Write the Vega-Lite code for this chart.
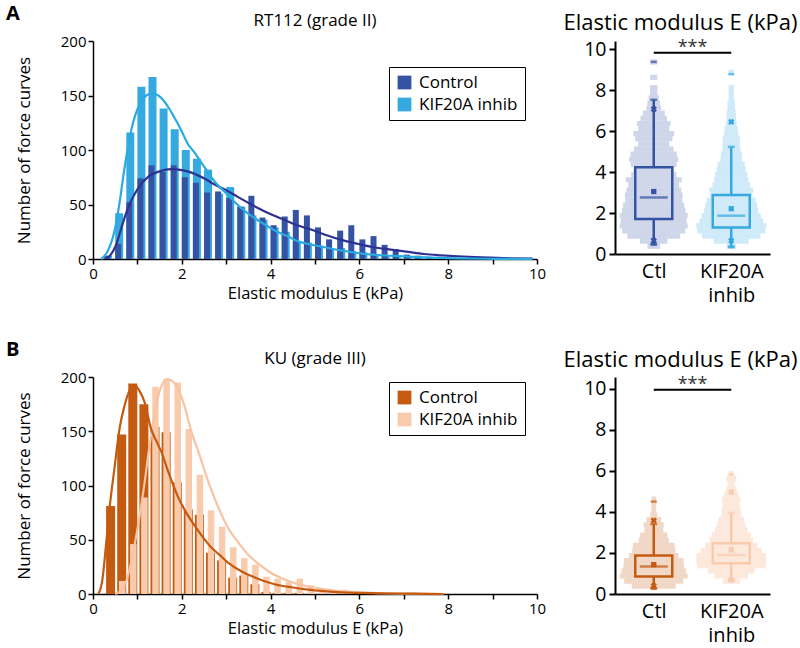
{
  "$schema": "https://vega.github.io/schema/vega-lite/v6.json",
  "background": "white",
  "padding": {"left": 5, "top": 3, "right": 0, "bottom": 0},
  "config": {
    "font": "Open Sans",
    "view": {"stroke": null},
    "axis": {"domainColor": "black", "domainWidth": 1.5, "tickColor": "black", "tickWidth": 1.5, "labelColor": "black", "titleColor": "black", "grid": false, "titleFontWeight": "normal", "labelFont": "Open Sans", "titleFont": "Open Sans"},
    "title": {"fontWeight": "normal", "color": "black", "font": "Open Sans"},
    "legend": {"labelFont": "Open Sans"}
  },
  "resolve": {"scale": {"color": "independent", "size": "independent", "x": "independent", "y": "independent"}, "legend": {"color": "independent"}},
  "datasets": {
    "histA": [
      {"grp": "KIF20A inhib", "lo": 0.25, "hi": 0.5, "n": 3},
      {"grp": "KIF20A inhib", "lo": 0.5, "hi": 0.75, "n": 42},
      {"grp": "KIF20A inhib", "lo": 0.75, "hi": 1.0, "n": 116},
      {"grp": "KIF20A inhib", "lo": 1.0, "hi": 1.25, "n": 158},
      {"grp": "KIF20A inhib", "lo": 1.25, "hi": 1.5, "n": 167},
      {"grp": "KIF20A inhib", "lo": 1.5, "hi": 1.75, "n": 138},
      {"grp": "KIF20A inhib", "lo": 1.75, "hi": 2.0, "n": 119},
      {"grp": "KIF20A inhib", "lo": 2.0, "hi": 2.25, "n": 100},
      {"grp": "KIF20A inhib", "lo": 2.25, "hi": 2.5, "n": 92},
      {"grp": "KIF20A inhib", "lo": 2.5, "hi": 2.75, "n": 82},
      {"grp": "KIF20A inhib", "lo": 2.75, "hi": 3.0, "n": 60},
      {"grp": "KIF20A inhib", "lo": 3.0, "hi": 3.25, "n": 66},
      {"grp": "KIF20A inhib", "lo": 3.25, "hi": 3.5, "n": 48},
      {"grp": "KIF20A inhib", "lo": 3.5, "hi": 3.75, "n": 40},
      {"grp": "KIF20A inhib", "lo": 3.75, "hi": 4.0, "n": 36},
      {"grp": "KIF20A inhib", "lo": 4.0, "hi": 4.25, "n": 29},
      {"grp": "KIF20A inhib", "lo": 4.25, "hi": 4.5, "n": 25},
      {"grp": "KIF20A inhib", "lo": 4.5, "hi": 4.75, "n": 16},
      {"grp": "KIF20A inhib", "lo": 4.75, "hi": 5.0, "n": 15},
      {"grp": "KIF20A inhib", "lo": 5.0, "hi": 5.25, "n": 11},
      {"grp": "KIF20A inhib", "lo": 5.25, "hi": 5.5, "n": 10},
      {"grp": "KIF20A inhib", "lo": 5.5, "hi": 5.75, "n": 10},
      {"grp": "KIF20A inhib", "lo": 5.75, "hi": 6.0, "n": 7},
      {"grp": "KIF20A inhib", "lo": 6.0, "hi": 6.25, "n": 6},
      {"grp": "KIF20A inhib", "lo": 6.25, "hi": 6.5, "n": 4},
      {"grp": "KIF20A inhib", "lo": 6.5, "hi": 6.75, "n": 3},
      {"grp": "KIF20A inhib", "lo": 6.75, "hi": 7.0, "n": 3},
      {"grp": "KIF20A inhib", "lo": 7.0, "hi": 7.25, "n": 2},
      {"grp": "KIF20A inhib", "lo": 7.25, "hi": 7.5, "n": 2},
      {"grp": "KIF20A inhib", "lo": 7.5, "hi": 7.75, "n": 1},
      {"grp": "KIF20A inhib", "lo": 7.75, "hi": 8.0, "n": 1},
      {"grp": "KIF20A inhib", "lo": 8.0, "hi": 8.25, "n": 1},
      {"grp": "KIF20A inhib", "lo": 8.75, "hi": 9.0, "n": 1},
      {"grp": "Control", "lo": 0.25, "hi": 0.5, "n": 3},
      {"grp": "Control", "lo": 0.5, "hi": 0.75, "n": 14},
      {"grp": "Control", "lo": 0.75, "hi": 1.0, "n": 52},
      {"grp": "Control", "lo": 1.0, "hi": 1.25, "n": 74},
      {"grp": "Control", "lo": 1.25, "hi": 1.5, "n": 86},
      {"grp": "Control", "lo": 1.5, "hi": 1.75, "n": 80},
      {"grp": "Control", "lo": 1.75, "hi": 2.0, "n": 86},
      {"grp": "Control", "lo": 2.0, "hi": 2.25, "n": 75},
      {"grp": "Control", "lo": 2.25, "hi": 2.5, "n": 70},
      {"grp": "Control", "lo": 2.5, "hi": 2.75, "n": 61},
      {"grp": "Control", "lo": 2.75, "hi": 3.0, "n": 62},
      {"grp": "Control", "lo": 3.0, "hi": 3.25, "n": 56},
      {"grp": "Control", "lo": 3.25, "hi": 3.5, "n": 48},
      {"grp": "Control", "lo": 3.5, "hi": 3.75, "n": 58},
      {"grp": "Control", "lo": 3.75, "hi": 4.0, "n": 38},
      {"grp": "Control", "lo": 4.0, "hi": 4.25, "n": 31},
      {"grp": "Control", "lo": 4.25, "hi": 4.5, "n": 39},
      {"grp": "Control", "lo": 4.5, "hi": 4.75, "n": 45},
      {"grp": "Control", "lo": 4.75, "hi": 5.0, "n": 40},
      {"grp": "Control", "lo": 5.0, "hi": 5.25, "n": 29},
      {"grp": "Control", "lo": 5.25, "hi": 5.5, "n": 18},
      {"grp": "Control", "lo": 5.5, "hi": 5.75, "n": 26},
      {"grp": "Control", "lo": 5.75, "hi": 6.0, "n": 31},
      {"grp": "Control", "lo": 6.0, "hi": 6.25, "n": 18},
      {"grp": "Control", "lo": 6.25, "hi": 6.5, "n": 21},
      {"grp": "Control", "lo": 6.5, "hi": 6.75, "n": 13},
      {"grp": "Control", "lo": 6.75, "hi": 7.0, "n": 9},
      {"grp": "Control", "lo": 7.0, "hi": 7.25, "n": 4},
      {"grp": "Control", "lo": 7.25, "hi": 7.5, "n": 3},
      {"grp": "Control", "lo": 7.5, "hi": 7.75, "n": 2},
      {"grp": "Control", "lo": 7.75, "hi": 8.0, "n": 1},
      {"grp": "Control", "lo": 8.0, "hi": 8.25, "n": 1},
      {"grp": "Control", "lo": 8.5, "hi": 8.75, "n": 1},
      {"grp": "Control", "lo": 9.25, "hi": 9.5, "n": 1}
    ],
    "histB": [
      {"grp": "Control", "lo": 0.25, "hi": 0.5, "n": 81},
      {"grp": "Control", "lo": 0.5, "hi": 0.75, "n": 147},
      {"grp": "Control", "lo": 0.75, "hi": 1.0, "n": 194},
      {"grp": "Control", "lo": 1.0, "hi": 1.25, "n": 175},
      {"grp": "Control", "lo": 1.25, "hi": 1.5, "n": 154},
      {"grp": "Control", "lo": 1.5, "hi": 1.75, "n": 149},
      {"grp": "Control", "lo": 1.75, "hi": 2.0, "n": 103},
      {"grp": "Control", "lo": 2.0, "hi": 2.25, "n": 78},
      {"grp": "Control", "lo": 2.25, "hi": 2.5, "n": 73},
      {"grp": "Control", "lo": 2.5, "hi": 2.75, "n": 38},
      {"grp": "Control", "lo": 2.75, "hi": 3.0, "n": 31},
      {"grp": "Control", "lo": 3.0, "hi": 3.25, "n": 15},
      {"grp": "Control", "lo": 3.25, "hi": 3.5, "n": 17},
      {"grp": "Control", "lo": 3.5, "hi": 3.75, "n": 9},
      {"grp": "Control", "lo": 3.75, "hi": 4.0, "n": 2},
      {"grp": "Control", "lo": 4.0, "hi": 4.25, "n": 1},
      {"grp": "Control", "lo": 4.25, "hi": 4.5, "n": 1},
      {"grp": "Control", "lo": 4.5, "hi": 4.75, "n": 1},
      {"grp": "KIF20A inhib", "lo": 0.5, "hi": 0.75, "n": 12},
      {"grp": "KIF20A inhib", "lo": 0.75, "hi": 1.0, "n": 46},
      {"grp": "KIF20A inhib", "lo": 1.0, "hi": 1.25, "n": 89},
      {"grp": "KIF20A inhib", "lo": 1.25, "hi": 1.5, "n": 191},
      {"grp": "KIF20A inhib", "lo": 1.5, "hi": 1.75, "n": 198},
      {"grp": "KIF20A inhib", "lo": 1.75, "hi": 2.0, "n": 195},
      {"grp": "KIF20A inhib", "lo": 2.0, "hi": 2.25, "n": 152},
      {"grp": "KIF20A inhib", "lo": 2.25, "hi": 2.5, "n": 110},
      {"grp": "KIF20A inhib", "lo": 2.5, "hi": 2.75, "n": 77},
      {"grp": "KIF20A inhib", "lo": 2.75, "hi": 3.0, "n": 62},
      {"grp": "KIF20A inhib", "lo": 3.0, "hi": 3.25, "n": 43},
      {"grp": "KIF20A inhib", "lo": 3.25, "hi": 3.5, "n": 33},
      {"grp": "KIF20A inhib", "lo": 3.5, "hi": 3.75, "n": 27},
      {"grp": "KIF20A inhib", "lo": 3.75, "hi": 4.0, "n": 16},
      {"grp": "KIF20A inhib", "lo": 4.0, "hi": 4.25, "n": 14},
      {"grp": "KIF20A inhib", "lo": 4.25, "hi": 4.5, "n": 11},
      {"grp": "KIF20A inhib", "lo": 4.5, "hi": 4.75, "n": 14},
      {"grp": "KIF20A inhib", "lo": 4.75, "hi": 5.0, "n": 8},
      {"grp": "KIF20A inhib", "lo": 5.0, "hi": 5.25, "n": 4},
      {"grp": "KIF20A inhib", "lo": 5.25, "hi": 5.5, "n": 2},
      {"grp": "KIF20A inhib", "lo": 5.5, "hi": 5.75, "n": 4},
      {"grp": "KIF20A inhib", "lo": 5.75, "hi": 6.0, "n": 1}
    ],
    "curveA": [
      {"grp": "Control", "E": 0.3, "n": 0}, {"grp": "Control", "E": 0.4, "n": 4}, {"grp": "Control", "E": 0.52, "n": 13},
      {"grp": "Control", "E": 0.65, "n": 30}, {"grp": "Control", "E": 0.78, "n": 46}, {"grp": "Control", "E": 1.0, "n": 64},
      {"grp": "Control", "E": 1.26, "n": 76}, {"grp": "Control", "E": 1.5, "n": 80.5}, {"grp": "Control", "E": 1.76, "n": 82.4},
      {"grp": "Control", "E": 2.0, "n": 81.5}, {"grp": "Control", "E": 2.2, "n": 79.5}, {"grp": "Control", "E": 2.5, "n": 74},
      {"grp": "Control", "E": 2.73, "n": 68.5}, {"grp": "Control", "E": 3.0, "n": 63}, {"grp": "Control", "E": 3.26, "n": 57},
      {"grp": "Control", "E": 3.5, "n": 51.5}, {"grp": "Control", "E": 3.78, "n": 45.5}, {"grp": "Control", "E": 4.1, "n": 39.5},
      {"grp": "Control", "E": 4.38, "n": 34.7}, {"grp": "Control", "E": 4.6, "n": 31}, {"grp": "Control", "E": 4.91, "n": 27},
      {"grp": "Control", "E": 5.21, "n": 22.5}, {"grp": "Control", "E": 5.6, "n": 17.5}, {"grp": "Control", "E": 5.96, "n": 14},
      {"grp": "Control", "E": 6.3, "n": 11}, {"grp": "Control", "E": 6.71, "n": 8.6}, {"grp": "Control", "E": 7.1, "n": 6.5},
      {"grp": "Control", "E": 7.46, "n": 4.6}, {"grp": "Control", "E": 7.85, "n": 3.4}, {"grp": "Control", "E": 8.21, "n": 2.5},
      {"grp": "Control", "E": 8.6, "n": 1.7}, {"grp": "Control", "E": 8.96, "n": 1.2}, {"grp": "Control", "E": 9.4, "n": 0.7},
      {"grp": "Control", "E": 9.9, "n": 0.3},
      {"grp": "KIF20A inhib", "E": 0.18, "n": 0}, {"grp": "KIF20A inhib", "E": 0.3, "n": 5}, {"grp": "KIF20A inhib", "E": 0.48, "n": 25},
      {"grp": "KIF20A inhib", "E": 0.6, "n": 52}, {"grp": "KIF20A inhib", "E": 0.7, "n": 81}, {"grp": "KIF20A inhib", "E": 0.86, "n": 118},
      {"grp": "KIF20A inhib", "E": 1.05, "n": 142}, {"grp": "KIF20A inhib", "E": 1.2, "n": 150}, {"grp": "KIF20A inhib", "E": 1.34, "n": 152},
      {"grp": "KIF20A inhib", "E": 1.53, "n": 148}, {"grp": "KIF20A inhib", "E": 1.7, "n": 139}, {"grp": "KIF20A inhib", "E": 1.83, "n": 130},
      {"grp": "KIF20A inhib", "E": 2.0, "n": 117}, {"grp": "KIF20A inhib", "E": 2.13, "n": 106}, {"grp": "KIF20A inhib", "E": 2.3, "n": 97},
      {"grp": "KIF20A inhib", "E": 2.43, "n": 89}, {"grp": "KIF20A inhib", "E": 2.6, "n": 79}, {"grp": "KIF20A inhib", "E": 2.73, "n": 71.6},
      {"grp": "KIF20A inhib", "E": 3.03, "n": 59}, {"grp": "KIF20A inhib", "E": 3.25, "n": 50}, {"grp": "KIF20A inhib", "E": 3.48, "n": 42},
      {"grp": "KIF20A inhib", "E": 3.7, "n": 36}, {"grp": "KIF20A inhib", "E": 3.93, "n": 30}, {"grp": "KIF20A inhib", "E": 4.15, "n": 25},
      {"grp": "KIF20A inhib", "E": 4.38, "n": 21}, {"grp": "KIF20A inhib", "E": 4.6, "n": 16.5}, {"grp": "KIF20A inhib", "E": 4.91, "n": 13.3},
      {"grp": "KIF20A inhib", "E": 5.21, "n": 10.8}, {"grp": "KIF20A inhib", "E": 5.6, "n": 7.8}, {"grp": "KIF20A inhib", "E": 5.96, "n": 5.5},
      {"grp": "KIF20A inhib", "E": 6.3, "n": 4}, {"grp": "KIF20A inhib", "E": 6.71, "n": 3}, {"grp": "KIF20A inhib", "E": 7.1, "n": 2.2},
      {"grp": "KIF20A inhib", "E": 7.46, "n": 1.5}, {"grp": "KIF20A inhib", "E": 8.2, "n": 0.6}, {"grp": "KIF20A inhib", "E": 9.0, "n": 0.2},
      {"grp": "KIF20A inhib", "E": 9.9, "n": 0}
    ],
    "curveB": [
      {"grp": "Control", "E": 0.12, "n": 0}, {"grp": "Control", "E": 0.2, "n": 10}, {"grp": "Control", "E": 0.3, "n": 48},
      {"grp": "Control", "E": 0.37, "n": 78}, {"grp": "Control", "E": 0.49, "n": 118}, {"grp": "Control", "E": 0.6, "n": 153},
      {"grp": "Control", "E": 0.7, "n": 172}, {"grp": "Control", "E": 0.83, "n": 188}, {"grp": "Control", "E": 0.94, "n": 192},
      {"grp": "Control", "E": 1.05, "n": 187}, {"grp": "Control", "E": 1.16, "n": 177}, {"grp": "Control", "E": 1.31, "n": 152},
      {"grp": "Control", "E": 1.45, "n": 139}, {"grp": "Control", "E": 1.54, "n": 131}, {"grp": "Control", "E": 1.7, "n": 112},
      {"grp": "Control", "E": 1.91, "n": 90}, {"grp": "Control", "E": 2.1, "n": 75}, {"grp": "Control", "E": 2.29, "n": 63},
      {"grp": "Control", "E": 2.5, "n": 51}, {"grp": "Control", "E": 2.66, "n": 43}, {"grp": "Control", "E": 2.85, "n": 36},
      {"grp": "Control", "E": 3.04, "n": 29}, {"grp": "Control", "E": 3.34, "n": 21}, {"grp": "Control", "E": 3.57, "n": 16.5},
      {"grp": "Control", "E": 3.85, "n": 12}, {"grp": "Control", "E": 4.09, "n": 9}, {"grp": "Control", "E": 4.5, "n": 6},
      {"grp": "Control", "E": 4.84, "n": 4}, {"grp": "Control", "E": 5.2, "n": 2.6}, {"grp": "Control", "E": 5.59, "n": 1.5},
      {"grp": "Control", "E": 6.0, "n": 1}, {"grp": "Control", "E": 6.5, "n": 0.6}, {"grp": "Control", "E": 7.0, "n": 0.4},
      {"grp": "Control", "E": 7.5, "n": 0.2}, {"grp": "Control", "E": 7.9, "n": 0},
      {"grp": "KIF20A inhib", "E": 0.5, "n": 0}, {"grp": "KIF20A inhib", "E": 0.62, "n": 3}, {"grp": "KIF20A inhib", "E": 0.75, "n": 12},
      {"grp": "KIF20A inhib", "E": 0.94, "n": 46}, {"grp": "KIF20A inhib", "E": 1.05, "n": 72}, {"grp": "KIF20A inhib", "E": 1.16, "n": 102},
      {"grp": "KIF20A inhib", "E": 1.25, "n": 130}, {"grp": "KIF20A inhib", "E": 1.35, "n": 157}, {"grp": "KIF20A inhib", "E": 1.5, "n": 187},
      {"grp": "KIF20A inhib", "E": 1.67, "n": 198}, {"grp": "KIF20A inhib", "E": 1.88, "n": 192}, {"grp": "KIF20A inhib", "E": 2.07, "n": 172},
      {"grp": "KIF20A inhib", "E": 2.2, "n": 152}, {"grp": "KIF20A inhib", "E": 2.4, "n": 128}, {"grp": "KIF20A inhib", "E": 2.6, "n": 103},
      {"grp": "KIF20A inhib", "E": 2.74, "n": 88}, {"grp": "KIF20A inhib", "E": 3.04, "n": 61}, {"grp": "KIF20A inhib", "E": 3.3, "n": 46},
      {"grp": "KIF20A inhib", "E": 3.5, "n": 36}, {"grp": "KIF20A inhib", "E": 3.75, "n": 27}, {"grp": "KIF20A inhib", "E": 3.95, "n": 21},
      {"grp": "KIF20A inhib", "E": 4.4, "n": 12}, {"grp": "KIF20A inhib", "E": 4.93, "n": 6.2}, {"grp": "KIF20A inhib", "E": 5.5, "n": 3},
      {"grp": "KIF20A inhib", "E": 6.0, "n": 1.5}, {"grp": "KIF20A inhib", "E": 6.5, "n": 0.8}, {"grp": "KIF20A inhib", "E": 7.0, "n": 0.4},
      {"grp": "KIF20A inhib", "E": 7.5, "n": 0.2}, {"grp": "KIF20A inhib", "E": 7.9, "n": 0}
    ],
    "boxA": [
      {"grp": "Ctl", "q1": 1.71, "med": 2.76, "q3": 4.23, "lo": 0.49, "hi": 7.53, "mean": 3.05, "p1": 0.65, "p99": 7.07, "mn": 0.45, "mx": 9.38},
      {"grp": "KIF20A inhib", "q1": 1.3, "med": 1.87, "q3": 2.88, "lo": 0.36, "hi": 5.23, "mean": 2.21, "p1": 0.65, "p99": 6.45, "mn": 0.33, "mx": 8.78}
    ],
    "boxB": [
      {"grp": "Ctl", "q1": 0.85, "med": 1.34, "q3": 1.87, "lo": 0.29, "hi": 3.41, "mean": 1.43, "p1": 0.4, "p99": 3.58, "mn": 0.25, "mx": 4.5},
      {"grp": "KIF20A inhib", "q1": 1.5, "med": 1.9, "q3": 2.47, "lo": 0.73, "hi": 3.95, "mean": 2.15, "p1": 0.68, "p99": 4.96, "mn": 0.65, "mx": 5.82}
    ],
    "labelsA": [{"t": "A", "E": -1.96, "n": 234}],
    "labelsB": [{"t": "B", "E": -1.96, "n": 234}],
    "titleA": [{"t": "RT112 (grade II)", "E": 5, "n": 218.5}],
    "titleB": [{"t": "KU (grade III)", "E": 5, "n": 217}]
  },
  "spacing": 35,
  "vconcat": [
    {
      "spacing": 17,
      "resolve": {"scale": {"color": "independent", "size": "independent", "x": "independent", "y": "independent"}, "legend": {"color": "independent"}},
      "hconcat": [
        {
          "width": 444, "height": 218,
          "layer": [
            {
              "data": {"name": "histA"},
              "transform": [{"filter": "datum.grp == 'KIF20A inhib'"}],
              "mark": {"type": "bar", "width": 8, "xOffset": 4},
              "encoding": {
                "x": {"field": "lo", "type": "quantitative", "scale": {"domain": [0, 10], "padding": 0, "nice": false},
                  "axis": {"values": [0,1,2,3,4,5,6,7,8,9,10], "labelExpr": "datum.value % 2 == 0 ? datum.label : ''", "title": "Elastic modulus E (kPa)", "labelFontSize": 15, "titleFontSize": 16.5, "tickSize": 5, "labelPadding": 2, "titlePadding": 4, "labelFlush": false, "labelOverlap": false}},
                "y": {"field": "n", "type": "quantitative", "scale": {"domain": [0, 200], "nice": false},
                  "axis": {"values": [0,25,50,75,100,125,150,175,200], "labelExpr": "datum.value % 50 == 0 ? datum.label : ''", "title": "Number of force curves", "titleFontSize": 17, "labelFontSize": 15, "tickSize": 5, "titlePadding": 27, "labelOverlap": false}},
                "color": {"field": "grp", "type": "nominal", "scale": {"domain": ["Control", "KIF20A inhib"], "range": ["#3553a3", "#36a9e1"]},
                  "legend": {"orient": "none", "legendX": 296, "legendY": 26, "title": null, "strokeColor": "black", "padding": 7, "labelFontSize": 17, "labelColor": "black", "symbolType": "square", "symbolSize": 190, "symbolStrokeWidth": 0, "rowPadding": 4, "fillColor": "white", "labelOffset": 6}}
              }
            },
            {
              "data": {"name": "histA"},
              "transform": [{"filter": "datum.grp == 'Control'"}],
              "mark": {"type": "bar", "width": 6, "xOffset": 3},
              "encoding": {
                "x": {"field": "lo", "type": "quantitative"},
                "y": {"field": "n", "type": "quantitative"},
                "color": {"field": "grp", "type": "nominal"}
              }
            },
            {
              "data": {"name": "curveA"},
              "transform": [{"filter": "datum.grp == 'Control'"}],
              "mark": {"type": "line", "color": "#2e3192", "strokeWidth": 2.2, "interpolate": "monotone"},
              "encoding": {"x": {"field": "E", "type": "quantitative"}, "y": {"field": "n", "type": "quantitative"}}
            },
            {
              "data": {"name": "curveA"},
              "transform": [{"filter": "datum.grp == 'KIF20A inhib'"}],
              "mark": {"type": "line", "color": "#29abe2", "strokeWidth": 2.2, "interpolate": "monotone"},
              "encoding": {"x": {"field": "E", "type": "quantitative"}, "y": {"field": "n", "type": "quantitative"}}
            },
            {
              "data": {"name": "labelsA"},
              "mark": {"type": "text", "fontSize": 20, "fontWeight": "bold", "align": "left", "baseline": "top", "color": "black"},
              "encoding": {"x": {"field": "E", "type": "quantitative"}, "y": {"field": "n", "type": "quantitative"}, "text": {"field": "t"}}
            },
            {
              "data": {"name": "titleA"},
              "mark": {"type": "text", "fontSize": 17, "align": "center", "baseline": "middle", "color": "black"},
              "encoding": {"x": {"field": "E", "type": "quantitative"}, "y": {"field": "n", "type": "quantitative"}, "text": {"field": "t"}}
            }
          ]
        },
        {
          "width": 155, "height": 213,
          "title": {"text": "Elastic modulus E (kPa)", "fontSize": 22, "offset": 4, "dx": -12},
          "resolve": {"scale": {"size": "independent"}},
          "layer": [
            {
              "data": {"name": "histA"},
              "transform": [{"filter": "datum.grp == 'Control'"}],
              "mark": {"type": "bar", "color": "#3553a3", "opacity": 0.24},
              "encoding": {
                "x": {"datum": "Ctl", "type": "nominal", "scale": {"type": "point", "padding": 0.5, "domain": ["Ctl", "KIF20A inhib"]},
                  "axis": {"title": null, "ticks": false, "labelFontSize": 20, "labelPadding": 7, "labelLineHeight": 24, "labelAngle": 0, "domainWidth": 2, "labelExpr": "datum.value == 'Ctl' ? 'Ctl' : ['KIF20A', 'inhib']"}},
                "y": {"field": "lo", "type": "quantitative", "scale": {"domain": [0, 10.4], "nice": false},
                  "axis": {"values": [0,2,4,6,8,10], "title": null, "labelFontSize": 19.5, "tickSize": 6, "labelPadding": 3, "domainWidth": 2, "tickWidth": 2}},
                "y2": {"field": "hi"},
                "size": {"field": "n", "type": "quantitative", "scale": {"type": "sqrt", "domain": [0, 86], "range": [0, 68]}, "legend": null}
              }
            },
            {
              "data": {"name": "histA"},
              "transform": [{"filter": "datum.grp == 'KIF20A inhib'"}],
              "mark": {"type": "bar", "color": "#36a9e1", "opacity": 0.24},
              "encoding": {
                "x": {"datum": "KIF20A inhib", "type": "nominal"},
                "y": {"field": "lo", "type": "quantitative"},
                "y2": {"field": "hi"},
                "size": {"field": "n", "type": "quantitative", "scale": {"type": "sqrt", "domain": [0, 167], "range": [0, 70]}, "legend": null}
              }
            },
            {
              "data": {"name": "boxA"},
              "encoding": {
                "x": {"field": "grp", "type": "nominal"},
                "color": {"field": "grp", "type": "nominal", "scale": {"domain": ["Ctl", "KIF20A inhib"], "range": ["#3553a3", "#36a9e1"]}, "legend": null}
              },
              "layer": [
                {"mark": {"type": "rule", "strokeWidth": 2.5}, "encoding": {"y": {"field": "lo", "type": "quantitative"}, "y2": {"field": "q1"}}},
                {"mark": {"type": "rule", "strokeWidth": 2.5}, "encoding": {"y": {"field": "q3", "type": "quantitative"}, "y2": {"field": "hi"}}},
                {"mark": {"type": "bar", "filled": false, "strokeWidth": 2.5, "width": 37}, "encoding": {"y": {"field": "q1", "type": "quantitative"}, "y2": {"field": "q3"}}},
                {"mark": {"type": "tick", "thickness": 2.5, "size": 28}, "encoding": {"y": {"field": "med", "type": "quantitative"}}},
                {"mark": {"type": "tick", "thickness": 2.5, "size": 7}, "encoding": {"y": {"field": "lo", "type": "quantitative"}}},
                {"mark": {"type": "tick", "thickness": 2.5, "size": 7}, "encoding": {"y": {"field": "hi", "type": "quantitative"}}},
                {"mark": {"type": "tick", "thickness": 2.5, "size": 6}, "encoding": {"y": {"field": "mn", "type": "quantitative"}}},
                {"mark": {"type": "tick", "thickness": 2.5, "size": 6}, "encoding": {"y": {"field": "mx", "type": "quantitative"}}},
                {"mark": {"type": "point", "shape": "square", "filled": true, "size": 28, "opacity": 1}, "encoding": {"y": {"field": "mean", "type": "quantitative"}}},
                {"mark": {"type": "point", "shape": "cross", "filled": true, "size": 40, "angle": 45, "opacity": 1}, "encoding": {"y": {"field": "p1", "type": "quantitative"}}},
                {"mark": {"type": "point", "shape": "cross", "filled": true, "size": 40, "angle": 45, "opacity": 1}, "encoding": {"y": {"field": "p99", "type": "quantitative"}}}
              ]
            },
            {
              "data": {"values": [{"s": "***"}]},
              "layer": [
                {"mark": {"type": "rule", "color": "black", "strokeWidth": 2}, "encoding": {"x": {"datum": "Ctl", "type": "nominal"}, "x2": {"datum": "KIF20A inhib"}, "y": {"datum": 9.83, "type": "quantitative"}}},
                {"mark": {"type": "text", "fontSize": 18, "baseline": "alphabetic", "color": "#333"}, "encoding": {"y": {"datum": 9.8, "type": "quantitative"}, "text": {"field": "s"}}}
              ]
            }
          ]
        }
      ]
    },
    {
      "spacing": 17,
      "resolve": {"scale": {"color": "independent", "size": "independent", "x": "independent", "y": "independent"}, "legend": {"color": "independent"}},
      "hconcat": [
        {
          "width": 444, "height": 217,
          "layer": [
            {
              "data": {"name": "histB"},
              "transform": [{"filter": "datum.grp == 'Control'"}],
              "mark": {"type": "bar", "width": 9, "xOffset": 6.5},
              "encoding": {
                "x": {"field": "lo", "type": "quantitative", "scale": {"domain": [0, 10], "padding": 0, "nice": false},
                  "axis": {"values": [0,1,2,3,4,5,6,7,8,9,10], "labelExpr": "datum.value % 2 == 0 ? datum.label : ''", "title": "Elastic modulus E (kPa)", "labelFontSize": 15, "titleFontSize": 16.5, "tickSize": 5, "labelPadding": 2, "titlePadding": 4, "labelFlush": false, "labelOverlap": false}},
                "y": {"field": "n", "type": "quantitative", "scale": {"domain": [0, 200], "nice": false},
                  "axis": {"values": [0,25,50,75,100,125,150,175,200], "labelExpr": "datum.value % 50 == 0 ? datum.label : ''", "title": "Number of force curves", "titleFontSize": 17, "labelFontSize": 15, "tickSize": 5, "titlePadding": 27, "labelOverlap": false}},
                "color": {"field": "grp", "type": "nominal", "scale": {"domain": ["Control", "KIF20A inhib"], "range": ["#c55a11", "#f8cbad"]},
                  "legend": {"orient": "none", "legendX": 296, "legendY": 5, "title": null, "strokeColor": "black", "padding": 7, "labelFontSize": 17, "labelColor": "black", "symbolType": "square", "symbolSize": 190, "symbolStrokeWidth": 0, "rowPadding": 4, "fillColor": "white", "labelOffset": 6}}
              }
            },
            {
              "data": {"name": "histB"},
              "transform": [{"filter": "datum.grp == 'KIF20A inhib'"}],
              "mark": {"type": "bar", "width": 6.5, "xOffset": 7},
              "encoding": {
                "x": {"field": "lo", "type": "quantitative"},
                "y": {"field": "n", "type": "quantitative"},
                "color": {"field": "grp", "type": "nominal"}
              }
            },
            {
              "data": {"name": "curveB"},
              "transform": [{"filter": "datum.grp == 'KIF20A inhib'"}],
              "mark": {"type": "line", "color": "#f6c4a3", "strokeWidth": 2.2, "interpolate": "monotone"},
              "encoding": {"x": {"field": "E", "type": "quantitative"}, "y": {"field": "n", "type": "quantitative"}}
            },
            {
              "data": {"name": "curveB"},
              "transform": [{"filter": "datum.grp == 'Control'"}],
              "mark": {"type": "line", "color": "#c55a11", "strokeWidth": 2.2, "interpolate": "monotone"},
              "encoding": {"x": {"field": "E", "type": "quantitative"}, "y": {"field": "n", "type": "quantitative"}}
            },
            {
              "data": {"name": "labelsB"},
              "mark": {"type": "text", "fontSize": 20, "fontWeight": "bold", "align": "left", "baseline": "top", "color": "black"},
              "encoding": {"x": {"field": "E", "type": "quantitative"}, "y": {"field": "n", "type": "quantitative"}, "text": {"field": "t"}}
            },
            {
              "data": {"name": "titleB"},
              "mark": {"type": "text", "fontSize": 17, "align": "center", "baseline": "middle", "color": "black"},
              "encoding": {"x": {"field": "E", "type": "quantitative"}, "y": {"field": "n", "type": "quantitative"}, "text": {"field": "t"}}
            }
          ]
        },
        {
          "width": 155, "height": 217,
          "title": {"text": "Elastic modulus E (kPa)", "fontSize": 22, "offset": 4, "dx": -12},
          "resolve": {"scale": {"size": "independent"}},
          "layer": [
            {
              "data": {"name": "histB"},
              "transform": [{"filter": "datum.grp == 'Control'"}],
              "mark": {"type": "bar", "color": "#c55a11", "opacity": 0.24},
              "encoding": {
                "x": {"datum": "Ctl", "type": "nominal", "scale": {"type": "point", "padding": 0.5, "domain": ["Ctl", "KIF20A inhib"]},
                  "axis": {"title": null, "ticks": false, "labelFontSize": 20, "labelPadding": 7, "labelLineHeight": 24, "labelAngle": 0, "domainWidth": 2, "labelExpr": "datum.value == 'Ctl' ? 'Ctl' : ['KIF20A', 'inhib']"}},
                "y": {"field": "lo", "type": "quantitative", "scale": {"domain": [0, 10.57], "nice": false},
                  "axis": {"values": [0,2,4,6,8,10], "title": null, "labelFontSize": 19.5, "tickSize": 6, "labelPadding": 3, "domainWidth": 2, "tickWidth": 2}},
                "y2": {"field": "hi"},
                "size": {"field": "n", "type": "quantitative", "scale": {"type": "sqrt", "domain": [0, 194], "range": [0, 68]}, "legend": null}
              }
            },
            {
              "data": {"name": "histB"},
              "transform": [{"filter": "datum.grp == 'KIF20A inhib'"}],
              "mark": {"type": "bar", "color": "#f4b183", "opacity": 0.28},
              "encoding": {
                "x": {"datum": "KIF20A inhib", "type": "nominal"},
                "y": {"field": "lo", "type": "quantitative"},
                "y2": {"field": "hi"},
                "size": {"field": "n", "type": "quantitative", "scale": {"type": "sqrt", "domain": [0, 198], "range": [0, 70]}, "legend": null}
              }
            },
            {
              "data": {"name": "boxB"},
              "encoding": {
                "x": {"field": "grp", "type": "nominal"},
                "color": {"field": "grp", "type": "nominal", "scale": {"domain": ["Ctl", "KIF20A inhib"], "range": ["#c55a11", "#f8cbad"]}, "legend": null}
              },
              "layer": [
                {"mark": {"type": "rule", "strokeWidth": 2.5}, "encoding": {"y": {"field": "lo", "type": "quantitative"}, "y2": {"field": "q1"}}},
                {"mark": {"type": "rule", "strokeWidth": 2.5}, "encoding": {"y": {"field": "q3", "type": "quantitative"}, "y2": {"field": "hi"}}},
                {"mark": {"type": "bar", "filled": false, "strokeWidth": 2.5, "width": 37}, "encoding": {"y": {"field": "q1", "type": "quantitative"}, "y2": {"field": "q3"}}},
                {"mark": {"type": "tick", "thickness": 2.5, "size": 28}, "encoding": {"y": {"field": "med", "type": "quantitative"}}},
                {"mark": {"type": "tick", "thickness": 2.5, "size": 7}, "encoding": {"y": {"field": "lo", "type": "quantitative"}}},
                {"mark": {"type": "tick", "thickness": 2.5, "size": 7}, "encoding": {"y": {"field": "hi", "type": "quantitative"}}},
                {"mark": {"type": "tick", "thickness": 2.5, "size": 6}, "encoding": {"y": {"field": "mn", "type": "quantitative"}}},
                {"mark": {"type": "tick", "thickness": 2.5, "size": 6}, "encoding": {"y": {"field": "mx", "type": "quantitative"}}},
                {"mark": {"type": "point", "shape": "square", "filled": true, "size": 28, "opacity": 1}, "encoding": {"y": {"field": "mean", "type": "quantitative"}}},
                {"mark": {"type": "point", "shape": "cross", "filled": true, "size": 40, "angle": 45, "opacity": 1}, "encoding": {"y": {"field": "p1", "type": "quantitative"}}},
                {"mark": {"type": "point", "shape": "cross", "filled": true, "size": 40, "angle": 45, "opacity": 1}, "encoding": {"y": {"field": "p99", "type": "quantitative"}}}
              ]
            },
            {
              "data": {"values": [{"s": "***"}]},
              "layer": [
                {"mark": {"type": "rule", "color": "black", "strokeWidth": 2}, "encoding": {"x": {"datum": "Ctl", "type": "nominal"}, "x2": {"datum": "KIF20A inhib"}, "y": {"datum": 9.95, "type": "quantitative"}}},
                {"mark": {"type": "text", "fontSize": 18, "baseline": "alphabetic", "color": "#333"}, "encoding": {"y": {"datum": 9.92, "type": "quantitative"}, "text": {"field": "s"}}}
              ]
            }
          ]
        }
      ]
    }
  ]
}
